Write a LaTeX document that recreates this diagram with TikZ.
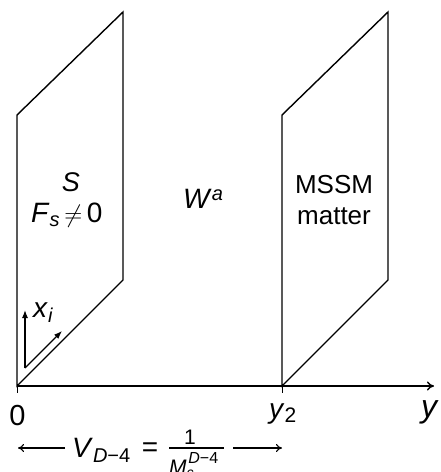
\documentclass[tikz,border=0pt]{standalone}
\usepackage{fontspec}
\setmainfont{Liberation Sans}
\usetikzlibrary{arrows.meta}
\newcommand{\fs}[1]{\fontsize{#1}{#1}\selectfont}
\begin{document}
\begin{tikzpicture}[x=1pt,y=-1pt,
  plane/.style={draw=black,line width=1.4pt,line join=miter},
  ax/.style={line width=1.4pt,-{To[length=7pt,width=9pt]}},
  smallarr/.style={line width=1.2pt,-{Latex[length=8pt,width=6pt]}},
  dimarr/.style={line width=1.1pt,-{To[length=6pt,width=8pt]}},
  lbl/.style={inner sep=0pt,anchor=base}]
\useasboundingbox (0,0) rectangle (441,472);
% planes
\coordinate (a0) at (17,386);
\coordinate (a1) at (17,115);
\coordinate (a2) at (123,12);
\coordinate (a3) at (123,280);
\coordinate (b0) at (282,386);
\coordinate (b1) at (282,115);
\coordinate (b2) at (388,12);
\coordinate (b3) at (388,280);
\coordinate (yend) at (434,386);
\draw[plane] (a0) -- (a1) -- (a2) -- (a3) -- cycle;
\draw[plane] (b0) -- (b1) -- (b2) -- (b3) -- cycle;
\draw[ax] (a0) -- (yend);
\coordinate (t0) at (17,393);
\coordinate (t2) at (282,393);
\draw[line width=0.8pt] (a0) -- (t0);
\draw[line width=0.8pt] (b0) -- (t2);
% x_i arrows
\coordinate (o) at (25,368);
\coordinate (ov) at (25,310);
\coordinate (od) at (62,331);
\draw[smallarr] (o) -- (ov);
\draw[smallarr] (o) -- (od);
\node[lbl,anchor=base west] (xi) at (33,317) {\fs{28}\textit{x}\raisebox{-5pt}{\fs{20}\textit{i}}};
% texts
\node[lbl] (S) at (71,191) {\fs{27}\textit{S}};
\node[lbl,anchor=base west] (F) at (31,222) {\fs{28}\textit{F}\raisebox{-4pt}{\fs{20}\textit{s}}\,$\neq$\,0};
\node[lbl,anchor=base west] (W) at (183,208) {\fs{28}\textit{W}\raisebox{8pt}{\fs{20}\textit{a}}};
\node[lbl] (M) at (334,193) {\fs{26}MSSM};
\node[lbl] (m) at (334,224) {\fs{26}matter};
\node[lbl] (l0) at (17.5,425) {\fs{29}0};
\node[lbl,anchor=base west] (l2) at (269,418) {\fs{28}\textit{y}\raisebox{-4pt}{\fs{21}2}};
\node[lbl] (ly) at (430,417) {\fs{32}\textit{y}};
% bottom formula
\node[lbl,anchor=base west] (V) at (72,457) {\fs{28}\textit{V}\raisebox{-5pt}{\fs{20}\textit{D}−4}};
\node[lbl] (eq) at (150,456) {\fs{28}=};
\node[lbl] (num) at (190,444) {\fs{21}1};
\node[lbl,anchor=base west] (den) at (169,474) {\fs{21}\textit{M}\raisebox{-3pt}{\fs{14}\textit{c}}\kern-0.25em\raisebox{11pt}{\fs{16}\textit{D}−4}};
\coordinate (bar1) at (169,448);
\coordinate (bar2) at (224,448);
\draw[line width=1.3pt] (bar1) -- (bar2);
\coordinate (la0) at (65,448);
\coordinate (la) at (18,448);
\coordinate (ra0) at (233,448);
\coordinate (ra) at (282,448);
\draw[dimarr] (la0) -- (la);
\draw[dimarr] (ra0) -- (ra);
\end{tikzpicture}
\end{document}
